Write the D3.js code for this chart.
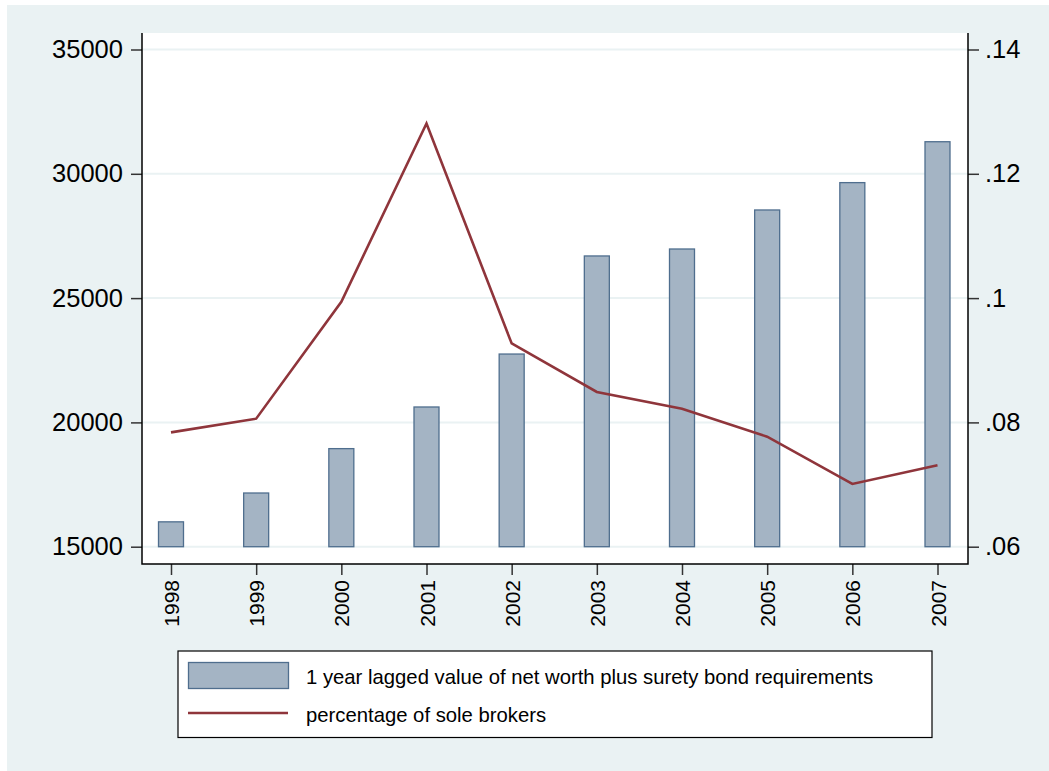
<!DOCTYPE html>
<html>

<head>
    <meta charset="UTF-8">
    <script src="https://d3js.org/d3.v7.min.js"></script>
    <style>
        body {
            margin: 0;
            background-color: #ffffff;
        }

        text {
            font-family: 'Liberation Sans', Arial, sans-serif;
            fill: #000;
        }
    </style>
</head>

<body>
    <svg id="chart" width="1049" height="771"></svg>
    <script>
        // data
        var years = [1998, 1999, 2000, 2001, 2002, 2003, 2004, 2005, 2006, 2007];
        var netWorth = [16000, 17160, 18945, 20620, 22750, 26695, 26975, 28545, 29645, 31290];
        var soleShare = [0.0784, 0.0806, 0.0994, 0.1281, 0.0927, 0.0849, 0.0822, 0.0777, 0.0701, 0.0731];

        var leftTicks = [15000, 20000, 25000, 30000, 35000];
        var rightTicks = [0.06, 0.08, 0.1, 0.12, 0.14];
        var rightTickLabels = [".06", ".08", ".1", ".12", ".14"];
        var legendLabels = ["1 year lagged value of net worth plus surety bond requirements", "percentage of sole brokers"];

        var barFill = "#a4b4c4";
        var barStroke = "#4f6e8e";
        var lineColor = "#8f353b";
        var bgColor = "#eaf2f3";

        var svg = d3.select("#chart");

        // plot region (note: "top" is taken by window.top, so use other names)
        var pLeft = 142, pRight = 968, pTop = 33, pBottom = 564;

        var x = d3.scaleLinear().domain([1998, 2007]).range([171, 937.5]);
        var yL = d3.scaleLinear().domain([15000, 35000]).range([546.7, 49.5]);
        var yR = d3.scaleLinear().domain([0.06, 0.14]).range([546.7, 49.5]);

        // outer background
        svg.append("rect")
            .attr("x", 7).attr("y", 5)
            .attr("width", 1049 - 7).attr("height", 771 - 5)
            .attr("fill", bgColor);

        svg.append("rect")
            .attr("x", pLeft).attr("y", pTop)
            .attr("width", pRight - pLeft).attr("height", pBottom - pTop)
            .attr("fill", "#fff");

        // gridlines
        svg.append("g")
            .selectAll("line")
            .data(leftTicks)
            .enter()
            .append("line")
            .attr("x1", pLeft).attr("x2", pRight)
            .attr("y1", function (d) { return yL(d); })
            .attr("y2", function (d) { return yL(d); })
            .attr("stroke", bgColor)
            .attr("stroke-width", 2);

        // bars
        var barW = 25;
        svg.append("g")
            .selectAll("rect")
            .data(years)
            .enter()
            .append("rect")
            .attr("x", function (d) { return x(d) - barW / 2; })
            .attr("y", function (d, i) { return yL(netWorth[i]); })
            .attr("width", barW)
            .attr("height", function (d, i) { return yL(15000) - yL(netWorth[i]); })
            .attr("fill", barFill)
            .attr("stroke", barStroke)
            .attr("stroke-width", 1.3);

        // line
        var line = d3.line()
            .x(function (d) { return x(d); })
            .y(function (d, i) { return yR(soleShare[i]); });

        svg.append("path")
            .datum(years)
            .attr("d", line)
            .attr("fill", "none")
            .attr("stroke", lineColor)
            .attr("stroke-width", 2.6)
            .attr("stroke-linejoin", "miter");

        // axes
        var axL = svg.append("g")
            .attr("transform", "translate(" + pLeft + ",0)")
            .call(d3.axisLeft(yL).tickValues(leftTicks).tickSize(11).tickPadding(8).tickFormat(d3.format("d")));

        var axR = svg.append("g")
            .attr("transform", "translate(" + pRight + ",0)")
            .call(d3.axisRight(yR).tickValues(rightTicks).tickSize(11).tickPadding(6)
                .tickFormat(function (d, i) { return rightTickLabels[i]; }));

        var axB = svg.append("g")
            .attr("transform", "translate(0," + pBottom + ")")
            .call(d3.axisBottom(x).tickValues(years).tickSize(11).tickFormat(d3.format("d")));

        [axL, axR, axB].forEach(function (ax) {
            ax.select(".domain").remove();
            ax.selectAll("line").attr("stroke", "#333").attr("stroke-width", 1.5);
            ax.selectAll("text").style("font-family", "'Liberation Sans', Arial, sans-serif").attr("fill", "#000");
        });
        axL.selectAll("text").style("font-size", "25.5px");
        axR.selectAll("text").style("font-size", "25.5px");
        axB.selectAll("text")
            .style("font-size", "21px")
            .attr("transform", "rotate(-90)")
            .attr("x", -16)
            .attr("y", 0)
            .attr("dy", "0.36em")
            .attr("text-anchor", "end");

        // axis lines: left, bottom, right (no top)
        svg.append("path")
            .attr("d", "M" + pLeft + "," + pTop + "V" + pBottom + "H" + pRight + "V" + pTop)
            .attr("fill", "none")
            .attr("stroke", "#000")
            .attr("stroke-width", 1.5);

        // legend
        var lg = svg.append("g");
        lg.append("rect")
            .attr("x", 178).attr("y", 651)
            .attr("width", 754).attr("height", 86.5)
            .attr("fill", "#fff")
            .attr("stroke", "#000")
            .attr("stroke-width", 1.2);
        lg.append("rect")
            .attr("x", 188.5).attr("y", 662.5)
            .attr("width", 100).attr("height", 26)
            .attr("fill", barFill)
            .attr("stroke", barStroke)
            .attr("stroke-width", 1.3);
        lg.append("line")
            .attr("x1", 188).attr("x2", 288)
            .attr("y1", 713).attr("y2", 713)
            .attr("stroke", lineColor)
            .attr("stroke-width", 2.5);
        lg.selectAll("text.lab")
            .data(legendLabels)
            .enter()
            .append("text")
            .attr("class", "lab")
            .attr("x", 306)
            .attr("y", function (d, i) { return i == 0 ? 684 : 722; })
            .style("font-size", "20.3px")
            .text(function (d) { return d; });
    </script>
</body>

</html>
